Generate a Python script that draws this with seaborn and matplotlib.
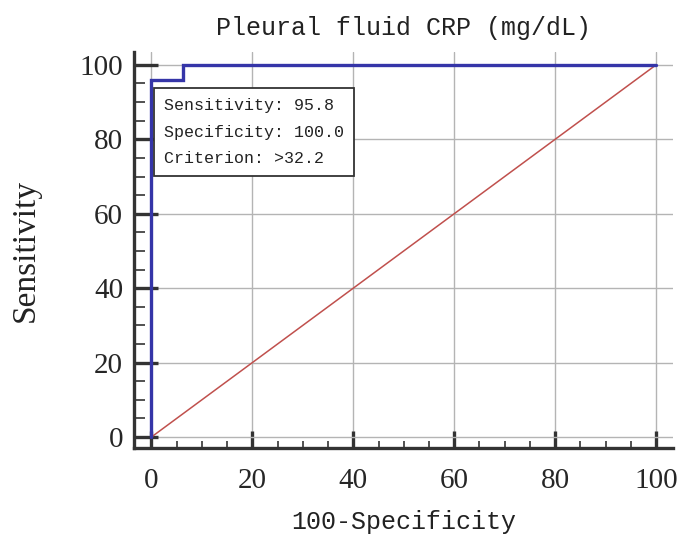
import matplotlib
matplotlib.use('Agg')
import matplotlib.pyplot as plt
import seaborn as sns
import pandas as pd
from matplotlib.ticker import MultipleLocator

# ROC curve points (100-Specificity, Sensitivity)
fpr = [0, 0, 6.25, 6.25, 100]
tpr = [0, 95.8, 95.8, 100, 100]
ref_x = [0, 100]
ref_y = [0, 100]

title = 'Pleural fluid CRP (mg/dL)'
info = ['Sensitivity: 95.8', 'Specificity: 100.0', 'Criterion: >32.2']

sns.set_style('white')
plt.rcParams['font.family'] = ['Liberation Serif', 'DejaVu Serif']

roc = pd.DataFrame({'x': fpr, 'y': tpr})
diag = pd.DataFrame({'x': ref_x, 'y': ref_y})

fig, ax = plt.subplots(figsize=(6.78, 5.4), dpi=100)
fig.subplots_adjust(left=0.198, right=0.993, bottom=0.17, top=0.904)

ax.set_xlim(-3.4, 103.4)
ax.set_ylim(-3.0, 103.5)
ax.xaxis.set_major_locator(MultipleLocator(20))
ax.yaxis.set_major_locator(MultipleLocator(20))
ax.xaxis.set_minor_locator(MultipleLocator(5))
ax.yaxis.set_minor_locator(MultipleLocator(5))
ax.grid(True, which='major', color='#b4b4b4', lw=1.0, zorder=0)

sns.lineplot(data=diag, x='x', y='y', ax=ax, color='#c0504d', lw=1.1, zorder=2)
ax.plot(roc['x'], roc['y'], color='#3535a8', lw=2.4, zorder=3,
        solid_joinstyle='miter', clip_on=False)

for s in ['top', 'right']:
    ax.spines[s].set_visible(False)
for s in ['left', 'bottom']:
    ax.spines[s].set_linewidth(2.4)
    ax.spines[s].set_color('#333333')

ax.tick_params(bottom=True, left=True, which='both')
ax.tick_params(axis='x', which='major', direction='in', length=12, width=2.4,
               color='#333333', labelsize=21, pad=14)
ax.tick_params(axis='x', which='minor', direction='in', length=5, width=1.2,
               color='#333333')
ax.tick_params(axis='y', which='major', direction='in', length=17, width=2.4,
               color='#333333', labelsize=21, pad=8)
ax.tick_params(axis='y', which='minor', direction='in', length=8, width=1.2,
               color='#333333')

ax.set_title(title, family='Liberation Mono', fontsize=18, color='#222222', pad=12)
ax.set_xlabel('100-Specificity', family='Liberation Mono', fontsize=18,
              color='#222222', labelpad=12)
ax.set_ylabel('Sensitivity', fontsize=24, color='#222222', labelpad=28)

ax.text(2.4, 91.0, '\n'.join(info), family='Liberation Mono', fontsize=12,
        va='top', ha='left', linespacing=1.95, color='#222222', zorder=5,
        bbox=dict(boxstyle='square,pad=0.6', fc='white', ec='#333333', lw=1.3))

plt.savefig('out.png', dpi=100)
